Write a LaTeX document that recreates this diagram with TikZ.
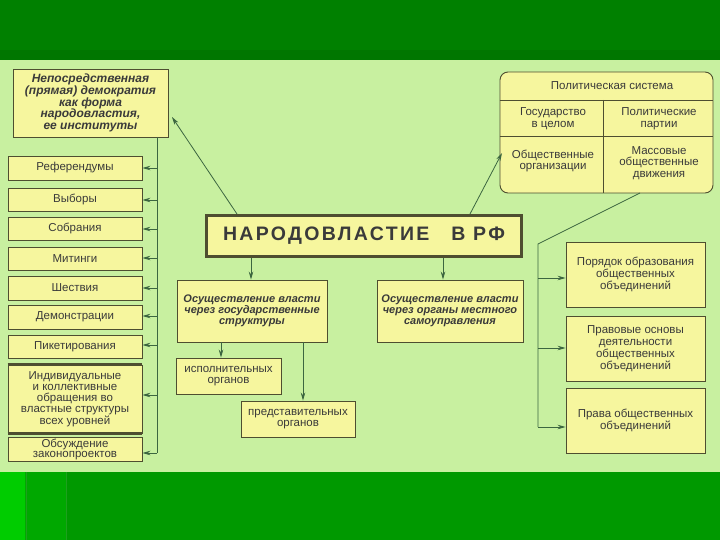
\documentclass[tikz,border=0pt]{standalone}
\usepackage{fontspec}
\setmainfont{Liberation Sans}
\newfontfamily\bigfont[LetterSpace=12]{Liberation Sans}
\usetikzlibrary{arrows.meta}
\definecolor{topgreen}{HTML}{008000}
\definecolor{topgreendk}{HTML}{007600}
\definecolor{botgreen}{HTML}{009900}
\definecolor{botgreenA}{HTML}{00CC00}
\definecolor{botgreenB}{HTML}{00A800}
\definecolor{bg}{HTML}{C8F0A0}
\definecolor{yel}{HTML}{F6F69E}
\definecolor{bd}{HTML}{4E4E30}
\definecolor{arr}{HTML}{3C6640}
\definecolor{txt}{HTML}{3A3A3A}
\tikzset{
  box/.style={draw=bd, fill=yel, line width=0.9pt, inner sep=1pt, align=center, text=txt,
    font=\fontsize{11.5}{11.8}\selectfont},
  boldbox/.style={box, font=\fontsize{11}{11.2}\selectfont\bfseries\itshape},
  lbl/.style={inner sep=0pt, align=center, text=txt, font=\fontsize{11.5}{11.8}\selectfont},
  con/.style={draw=arr, line width=0.8pt},
  arrw/.style={con, -{Stealth[length=8pt,width=4.5pt]}},
}
\begin{document}
\begin{tikzpicture}[x=1pt,y=-1pt]
\useasboundingbox (0,0) rectangle (720,540);
% background
\fill[bg] (0,0) rectangle (720,540);
\fill[topgreen] (0,0) rectangle (720,50);
\fill[topgreendk] (0,50) rectangle (720,60);
\fill[botgreen] (0,472) rectangle (720,540);
\fill[botgreenA] (0,472) rectangle (25,540);
\fill[botgreenB] (25,472) rectangle (67,540);
\draw[green!40!black!70, line width=0.6pt, opacity=0.4] (26,472) -- (26,540) (66,472) -- (66,540);

% top-left box
\node[box, minimum width=155, minimum height=68, font=\fontsize{12}{11.8}\selectfont\bfseries\itshape] (dd) at (90.5,103)
 {Непосредственная\\(прямая) демократия\\как форма\\народовластия,\\ее институты};

% left list
\node[box, minimum width=134, minimum height=24] (l1) at (75,168) {Референдумы};
\node[box, minimum width=134, minimum height=23] (l2) at (75,199.5) {Выборы};
\node[box, minimum width=134, minimum height=23] (l3) at (75,228.5) {Собрания};
\node[box, minimum width=134, minimum height=23] (l4) at (75,258.5) {Митинги};
\node[box, minimum width=134, minimum height=24] (l5) at (75,288) {Шествия};
\node[box, minimum width=134, minimum height=24] (l6) at (75,317) {Демонстрации};
\node[box, minimum width=134, minimum height=23] (l7) at (75,346.5) {Пикетирования};
\node[box, minimum width=134, minimum height=68, font=\fontsize{11.5}{10.9}\selectfont] (l8) at (75,399)
 {Индивидуальные\\и коллективные\\обращения во\\властные структуры\\всех уровней};
\draw[bd, line width=2.4pt] (l8.north west) -- (l8.north east) (l8.south west) -- (l8.south east);
\node[box, minimum width=134, minimum height=23, font=\fontsize{11.5}{10.5}\selectfont] (l9) at (75,449.5) {Обсуждение\\законопроектов};

\coordinate (vtop) at (157,137);
\coordinate (vbot) at (157,453);
\draw[con] (vtop) -- (vbot);
\foreach \n/\y in {l1/168,l2/200,l3/229,l4/258,l5/288,l6/316,l7/345,l8/395,l9/453}{
  \draw[arrw] (157,\y) -- (\n.east |- 0,\y);
}

% central box
\node[draw=bd, fill=yel, line width=3pt, minimum width=315, minimum height=40, inner sep=0pt,
  text=txt, font=\fontsize{19.5}{20}\selectfont\bfseries\bigfont] (main) at (364,236)
 {НАРОДОВЛАСТИЕ\hspace{22pt}В РФ};

% political system box
\node[draw=bd, fill=yel, line width=0.9pt, rounded corners=8pt, minimum width=213, minimum height=121, inner sep=0pt] (pol) at (606.5,132.5) {};
\draw[bd, line width=0.9pt] (pol.west |- 0,100) -- (pol.east |- 0,100)
  (pol.west |- 0,136) -- (pol.east |- 0,136)
  (603,100) -- (603,193);
\node[lbl] (polt) at (612,86) {Политическая система};
\node[lbl] (pol1) at (553,119) {Государство\\в целом};
\node[lbl] (pol2) at (659,119) {Политические\\партии};
\node[lbl] (pol3) at (553,161) {Общественные\\организации};
\node[lbl] (pol4) at (659,163) {Массовые\\общественные\\движения};

% arrows from central
\coordinate (p1) at (237,214);
\coordinate (p2) at (172,117);
\draw[arrw] (p1) -- (p2);
\coordinate (p3) at (470,214);
\coordinate (p4) at (502,153);
\draw[arrw] (p3) -- (p4);

% second level
\node[boldbox, minimum width=150, minimum height=62] (gov) at (252,311)
 {Осуществление власти\\через государственные\\структуры};
\node[boldbox, minimum width=146, minimum height=62] (loc) at (450,311)
 {Осуществление власти\\через органы местного\\самоуправления};
\draw[arrw] (251,258) -- (gov.north -| 251,0);
\draw[arrw] (443,258) -- (loc.north -| 443,0);

\node[box, minimum width=105, minimum height=36] (ex) at (228.5,376) {исполнительных\\органов};
\node[box, minimum width=114, minimum height=36] (rep) at (298,419) {представительных\\органов};
\draw[arrw] (221,342) -- (ex.north -| 221,0);
\draw[arrw] (303,342) -- (rep.north -| 303,0);

% right side
\node[box, minimum width=139, minimum height=65] (r1) at (635.5,274.5) {Порядок образования\\общественных\\объединений};
\node[box, minimum width=139, minimum height=65] (r2) at (635.5,348.5) {Правовые основы\\деятельности\\общественных\\объединений};
\node[box, minimum width=139, minimum height=65] (r3) at (635.5,420.5) {Права общественных\\объединений};
\coordinate (pb) at (640,193);
\coordinate (rc) at (538,244);
\coordinate (rb) at (538,427);
\draw[con] (pb) -- (rc) -- (rb);
\foreach \n/\y in {r1/278,r2/348,r3/427}{
  \draw[arrw] (538,\y) -- (\n.west |- 0,\y);
}
\end{tikzpicture}
\end{document}
